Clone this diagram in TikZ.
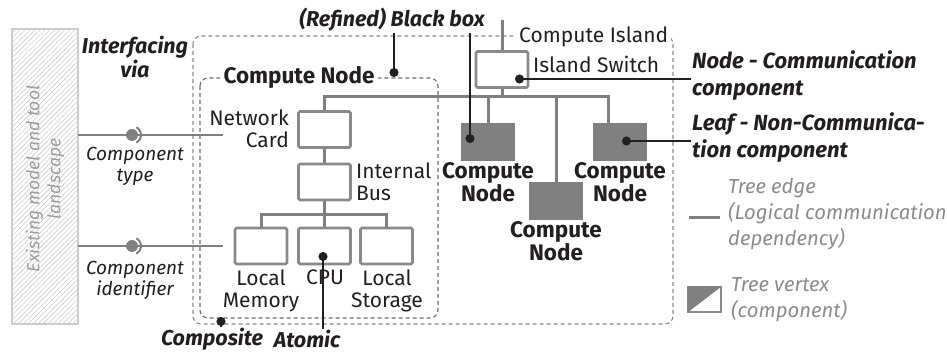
\documentclass[tikz,border=0pt]{standalone}
\usepackage{fontspec}
\setmainfont{Fira Sans}
\usetikzlibrary{arrows.meta,positioning,patterns.meta}
\definecolor{TreeGray}{RGB}{128,128,131}
\definecolor{BoxGray}{RGB}{138,138,140}
\definecolor{DashGray}{RGB}{110,110,110}
\definecolor{InkBlack}{RGB}{35,31,32}
\definecolor{SoftGray}{RGB}{140,140,142}
\definecolor{HatchGray}{RGB}{205,205,205}

\begin{document}
\begin{tikzpicture}[x=1pt,y=-1pt,
    txt/.style={font=\fontsize{21}{22}\selectfont,text=InkBlack,inner sep=1pt},
    btxt/.style={txt,font=\fontsize{22.5}{22}\selectfont\bfseries},
    bitxt/.style={txt,font=\fontsize{21.5}{22}\selectfont\bfseries\itshape},
    note/.style={txt,font=\fontsize{22}{27}\selectfont\bfseries\itshape,align=left,anchor=west},
    lgtxt/.style={txt,font=\fontsize{20.3}{26}\selectfont\itshape,text=SoftGray,align=left,anchor=west},
    itxt/.style={txt,font=\fontsize{19}{21}\selectfont\itshape,align=center},
    box/.style={draw=BoxGray,line width=2.8pt,fill=white,rounded corners=1.5pt,
                minimum width=52pt,minimum height=36pt,inner sep=0pt},
    leaf/.style={fill=TreeGray,minimum width=54pt,minimum height=38pt,inner sep=0pt},
    edge/.style={draw=TreeGray,line width=3pt},
    ptr/.style={draw=InkBlack,line width=1.6pt,{Circle[length=9pt]}-},
    iface/.style={draw=TreeGray,line width=1.8pt},
    dashbox/.style={dash pattern=on 4pt off 3pt,line width=1.1pt,rounded corners=8pt}
  ]
  \useasboundingbox (0,0) rectangle (947,352);

  % existing landscape
  \node[draw=HatchGray,line width=1.2pt,minimum width=66pt,minimum height=295pt,
        pattern={Lines[angle=45,distance=3.5pt,line width=0.6pt]},pattern color=HatchGray]
        (land) at (45,176.5) {};
  \node[lgtxt,anchor=center,align=center,rotate=90,text=SoftGray!85,
        font=\fontsize{17.5}{21}\selectfont\itshape] (landtxt) at (45,179)
        {Existing model and tool\\landscape};

  % black box and compute node borders
  \draw[dashbox,draw=SoftGray] (193,36) rectangle (673,324);
  \draw[dashbox,draw=DashGray] (200,78) rectangle (438,318);
  \node[btxt,fill=white,inner xsep=4pt] (cntitle) at (299,77) {Compute Node};
  \node[txt,fill=white,anchor=west,inner xsep=3pt] (island) at (516,37) {Compute Island};
  \node[txt,anchor=west] (swtxt) at (532,64) {Island Switch};

  % tree vertices
  \node[box] (switch) at (502,69.5) {};
  \node[box] (card) at (324.5,129.5) {};
  \node[box] (ibus) at (324.5,182) {};
  \node[box] (mem) at (261,246) {};
  \node[box] (cpu) at (324.5,246) {};
  \node[box] (stor) at (386.5,246) {};
  \node[leaf] (cn1) at (488,142) {};
  \node[leaf] (cn2) at (556,201) {};
  \node[leaf] (cn3) at (620,142) {};

  % tree edges
  \coordinate (top) at (502,20);
  \coordinate (busR) at (608,97);
  \coordinate (sub) at (324.5,215);
  \draw[edge] (top) -- (switch.north);
  \draw[edge] (card.north) |- (busR) -- (busR |- cn3.north);
  \draw[edge] (switch.south) -- (switch.south |- busR);
  \draw[edge] (cn1.north) -- (cn1.north |- busR);
  \draw[edge] (cn2.north) -- (cn2.north |- busR);
  \draw[edge] (card.south) -- (ibus.north);
  \draw[edge] (ibus.south) -- (cpu.north);
  \draw[edge] (mem.north) |- (sub) -| (stor.north);

  % vertex labels
  \node[txt,anchor=east,align=right] (cardtxt) at (290,129) {Network\\Card};
  \node[txt,anchor=west,align=left] (ibustxt) at (355,182) {Internal\\Bus};
  \node[txt,anchor=north,align=center] (memtxt) at (261,269) {Local\\Memory};
  \node[txt,anchor=north,align=center] (cputxt) at (325,269) {CPU};
  \node[txt,anchor=north,align=center] (stortxt) at (387,269) {Local\\Storage};
  \node[btxt,below=0pt of cn1,align=center] (cn1txt) {Compute\\Node};
  \node[btxt,below=0pt of cn2,align=center] (cn2txt) {Compute\\Node};
  \node[btxt,below=0pt of cn3,align=center] (cn3txt) {Compute\\Node};

  % interfacing
  \node[bitxt,align=center] (ifvia) at (135,57) {Interfacing\\via};
  \coordinate (ctEnd) at (223,135);
  \coordinate (ciEnd) at (223,246);
  \coordinate (ctBall) at (132,135);
  \coordinate (ciBall) at (132,246);
  \draw[iface] (ctEnd -| land.east) -- (ctEnd);
  \draw[iface] (ciEnd -| land.east) -- (ciEnd);
  \foreach \b in {ctBall,ciBall}{
    \fill[TreeGray] (\b) circle[radius=6pt];
    \draw[TreeGray,line width=2pt] (\b) ++(60:9pt) arc[start angle=60,end angle=-60,radius=9pt];
  }
  \node[itxt] (cttxt) at (135,166) {Component\\type};
  \node[itxt] (citxt) at (135,280) {Component\\identifier};

  % pointers
  \node[bitxt] (bbox) at (392,20) {(Refined) Black box};
  \coordinate (bbdotA) at (394,77);
  \coordinate (bbdotB) at (470,143);
  \draw[ptr] (bbdotA) -- (bbdotA |- bbox.south);
  \draw[ptr] (bbdotB) -- (bbdotB |- bbox.south);

  \node[note] (commtxt) at (691,76) {Node - Communication\\component};
  \node[note] (leaftxt) at (691,138) {Leaf - Non-Communica-\\tion component};
  \coordinate (swdot) at (515,79);
  \coordinate (lfdot) at (622,141);
  \draw[ptr] (swdot) -- (swdot -| commtxt.west);
  \draw[ptr] (lfdot) -- (lfdot -| leaftxt.west);

  \node[bitxt] (comptxt) at (212,339) {Composite};
  \node[bitxt] (atomtxt) at (307,339) {Atomic};
  \coordinate (compdot) at (221,317);
  \coordinate (cpudot) at (323,252);
  \draw[ptr] (compdot) -- (compdot |- comptxt.north);
  \draw[ptr] (cpudot) -- (cpudot |- atomtxt.north);

  % legend
  \coordinate (lgA) at (689,218);
  \coordinate (lgB) at (720,218);
  \draw[edge] (lgA) -- (lgB);
  \node[lgtxt] (edgetxt) at (727,214) {Tree edge\\(Logical communication\\dependency)};
  \node[draw=SoftGray,line width=1.2pt,fill=white,minimum width=33pt,minimum height=25pt,
        inner sep=0pt] (lgvert) at (704.5,299.5) {};
  \fill[TreeGray] (lgvert.north west) -- (lgvert.north east) -- (lgvert.south west) -- cycle;
  \node[lgtxt] (verttxt) at (730,300) {Tree vertex\\(component)};
\end{tikzpicture}
\end{document}
